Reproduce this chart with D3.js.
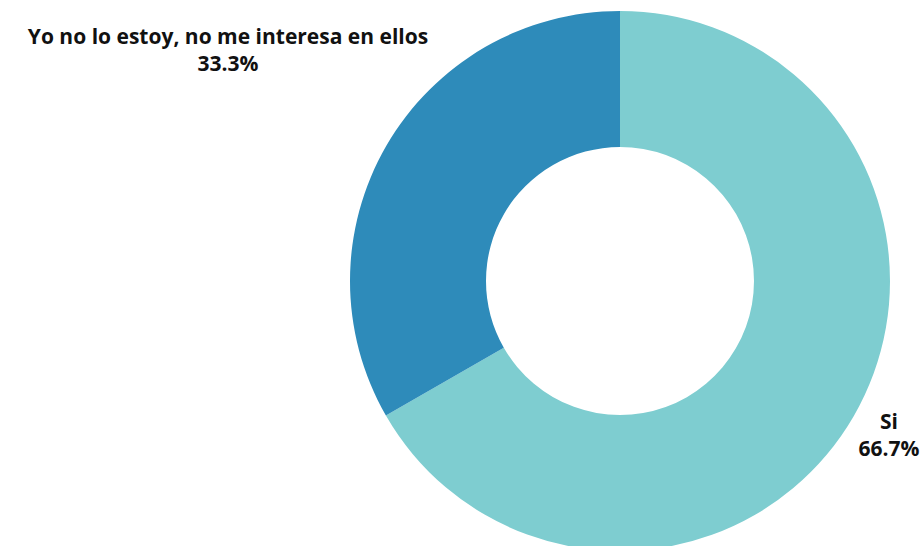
<!DOCTYPE html>
<html>
<head>
<meta charset="utf-8">
<script src="https://cdn.jsdelivr.net/npm/d3@7"></script>
<style>
  body { margin: 0; background: #fff; }
  text { font-family: "Open Sans", sans-serif; font-weight: 700; fill: #111; }
</style>
</head>
<body>
<script>
const categories = ['Si', 'Yo no lo estoy, no me interesa en ellos'];
const values = [66.7, 33.3];
const percentLabels = ['66.7%', '33.3%'];
const colors = ['#7ecdd0', '#2e8bba'];

const width = 922, height = 546;
const cx = 620, cy = 281;
const outerR = 270, innerR = 134;

const svg = d3.select('body').append('svg')
    .attr('width', width)
    .attr('height', height);

const pie = d3.pie().sort(null).value(d => d.value);
const arc = d3.arc().innerRadius(innerR).outerRadius(outerR);

const data = categories.map((c, i) => ({ name: c, value: values[i], pct: percentLabels[i], color: colors[i] }));

const g = svg.append('g').attr('transform', `translate(${cx}, ${cy})`);

g.selectAll('path')
    .data(pie(data))
    .enter()
    .append('path')
    .attr('d', arc)
    .attr('fill', d => d.data.color);

// label anchors (layout, not data)
const labelPos = [[889, 429], [228, 44]];

const labels = svg.selectAll('g.label')
    .data(data)
    .enter()
    .append('g')
    .attr('class', 'label')
    .attr('transform', (d, i) => `translate(${labelPos[i][0]}, ${labelPos[i][1]})`);

labels.append('text')
    .attr('text-anchor', 'middle')
    .style('font-size', '21px')
    .text(d => d.name);

labels.append('text')
    .attr('text-anchor', 'middle')
    .attr('y', 27)
    .style('font-size', '21px')
    .text(d => d.pct);
</script>
</body>
</html>
